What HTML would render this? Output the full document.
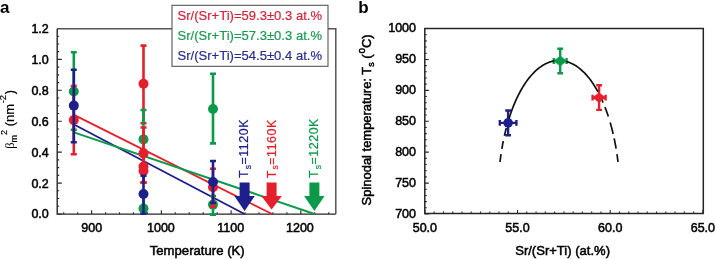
<!DOCTYPE html><html><head><meta charset="utf-8"><style>html,body{margin:0;padding:0;background:#fff;width:716px;height:259px;overflow:hidden}svg{display:block;will-change:transform}text{font-family:'Liberation Sans', sans-serif}</style></head><body>
<svg width="716" height="259" viewBox="0 0 716 259">
<rect width="716" height="259" fill="#fff"/>
<text x="0" y="12.9" font-size="17" font-weight="bold" fill="#000" stroke-width="0" stroke="#000" stroke-width="0.5">a</text>
<text x="358.2" y="12.8" font-size="17" font-weight="bold" fill="#000" stroke-width="0" stroke="#000" stroke-width="0.5">b</text>
<path d="M57.2 214.00h4.6M57.2 206.27h2.0M57.2 198.54h2.0M57.2 190.81h2.0M57.2 183.08h4.6M57.2 175.35h2.0M57.2 167.62h2.0M57.2 159.89h2.0M57.2 152.16h4.6M57.2 144.43h2.0M57.2 136.70h2.0M57.2 128.97h2.0M57.2 121.24h4.6M57.2 113.51h2.0M57.2 105.78h2.0M57.2 98.05h2.0M57.2 90.32h4.6M57.2 82.59h2.0M57.2 74.86h2.0M57.2 67.13h2.0M57.2 59.40h4.6M57.2 51.67h2.0M57.2 43.94h2.0M57.2 36.21h2.0M57.2 28.48h4.6M63.70 214.1v-1.8M77.65 214.1v-1.8M91.60 214.1v-3.8M105.55 214.1v-1.8M119.50 214.1v-1.8M133.45 214.1v-1.8M147.40 214.1v-1.8M161.35 214.1v-3.8M175.30 214.1v-1.8M189.25 214.1v-1.8M203.20 214.1v-1.8M217.15 214.1v-1.8M231.10 214.1v-3.8M245.05 214.1v-1.8M259.00 214.1v-1.8M272.95 214.1v-1.8M286.90 214.1v-1.8M300.85 214.1v-3.8M314.80 214.1v-1.8M328.75 214.1v-1.8" stroke="#262626" stroke-width="1.1" fill="none"/>
<path d="M57.2 28.7H335.8V214.1" stroke="#555" stroke-width="1.5" fill="none"/>
<path d="M57.2 28.7V214.1H335.8" stroke="#262626" stroke-width="1.4" fill="none"/>
<text x="48.8" y="218.4" font-size="12.5" text-anchor="end" fill="#000" stroke="#000" stroke-width="0.5">0.0</text>
<text x="48.8" y="187.5" font-size="12.5" text-anchor="end" fill="#000" stroke="#000" stroke-width="0.5">0.2</text>
<text x="48.8" y="156.6" font-size="12.5" text-anchor="end" fill="#000" stroke="#000" stroke-width="0.5">0.4</text>
<text x="48.8" y="125.6" font-size="12.5" text-anchor="end" fill="#000" stroke="#000" stroke-width="0.5">0.6</text>
<text x="48.8" y="94.7" font-size="12.5" text-anchor="end" fill="#000" stroke="#000" stroke-width="0.5">0.8</text>
<text x="48.8" y="63.8" font-size="12.5" text-anchor="end" fill="#000" stroke="#000" stroke-width="0.5">1.0</text>
<text x="48.8" y="32.9" font-size="12.5" text-anchor="end" fill="#000" stroke="#000" stroke-width="0.5">1.2</text>
<text x="91.8" y="232.4" font-size="12.5" text-anchor="middle" fill="#000" stroke="#000" stroke-width="0.5">900</text>
<text x="160.9" y="232.4" font-size="12.5" text-anchor="middle" fill="#000" stroke="#000" stroke-width="0.5">1000</text>
<text x="230.7" y="232.4" font-size="12.5" text-anchor="middle" fill="#000" stroke="#000" stroke-width="0.5">1100</text>
<text x="299.9" y="232.4" font-size="12.5" text-anchor="middle" fill="#000" stroke="#000" stroke-width="0.5">1200</text>
<text x="197.2" y="255" font-size="13" text-anchor="middle" fill="#000" textLength="95" lengthAdjust="spacingAndGlyphs" stroke="#000" stroke-width="0.5">Temperature (K)</text>
<text transform="translate(14.2,148.8) rotate(-90)" font-size="13" fill="#000" stroke-width="0.2" stroke="#000" stroke-width="0.5"><tspan font-family="Liberation Serif" font-size="12.5" stroke-width="0">β</tspan><tspan font-size="9" dy="2.4">m</tspan><tspan font-size="9" dy="-9.6">2</tspan><tspan dy="7.2"> (nm</tspan><tspan font-size="9.5" dx="0.6" dy="-8">-2</tspan><tspan dx="0.6" dy="8">)</tspan></text>
<line x1="74.0" y1="114.8" x2="272.0" y2="214.0" stroke="#e3202b" stroke-width="1.9"/>
<line x1="74.0" y1="124.5" x2="244.5" y2="214.0" stroke="#1f1f8c" stroke-width="1.9"/>
<line x1="74.0" y1="132.3" x2="314.5" y2="214.0" stroke="#0c9a4a" stroke-width="1.9"/>
<path d="M73.8 52.3V129.8M70.8 52.3h6.0M70.8 129.8h6.0" stroke="#0c9a4a" stroke-width="2.6" fill="none"/>
<circle cx="73.8" cy="91.5" r="5.0" fill="#0c9a4a"/>
<path d="M73.8 86.0V154.2M70.8 86.0h6.0M70.8 154.2h6.0" stroke="#e3202b" stroke-width="2.6" fill="none"/>
<path d="M143.5 45.6V123.3M140.5 45.6h6.0M140.5 123.3h6.0" stroke="#e3202b" stroke-width="2.6" fill="none"/>
<circle cx="73.8" cy="120.1" r="5.0" fill="#e3202b"/>
<circle cx="143.5" cy="83.8" r="5.0" fill="#e3202b"/>
<path d="M143.5 110.0V168.8M140.5 110.0h6.0M140.5 168.8h6.0" stroke="#0c9a4a" stroke-width="2.6" fill="none"/>
<path d="M143.5 196.0V213.0M140.5 196.0h6.0M140.5 213.0h6.0" stroke="#0c9a4a" stroke-width="2.6" fill="none"/>
<circle cx="143.5" cy="139.4" r="5.0" fill="#0c9a4a"/>
<circle cx="143.5" cy="208.6" r="5.0" fill="#0c9a4a"/>
<path d="M143.5 127.5V182.5M140.5 127.5h6.0M140.5 182.5h6.0" stroke="#e3202b" stroke-width="2.6" fill="none"/>
<path d="M143.5 150.0V182.5M140.5 150.0h6.0M140.5 182.5h6.0" stroke="#e3202b" stroke-width="2.6" fill="none"/>
<path d="M143.5 150.0V182.5M140.5 150.0h6.0M140.5 182.5h6.0" stroke="#e3202b" stroke-width="2.6" fill="none"/>
<circle cx="143.5" cy="153.4" r="5.0" fill="#e3202b"/>
<circle cx="143.5" cy="166.5" r="5.0" fill="#e3202b"/>
<circle cx="143.5" cy="171.0" r="5.0" fill="#e3202b"/>
<path d="M213.0 73.8V143.4M210.0 73.8h6.0M210.0 143.4h6.0" stroke="#0c9a4a" stroke-width="2.6" fill="none"/>
<path d="M213.0 196.0V214.6M210.0 196.0h6.0M210.0 214.6h6.0" stroke="#0c9a4a" stroke-width="2.6" fill="none"/>
<circle cx="213.0" cy="109.0" r="5.0" fill="#0c9a4a"/>
<circle cx="213.0" cy="204.6" r="5.0" fill="#0c9a4a"/>
<path d="M213.0 168.8V206.6M210.0 168.8h6.0M210.0 206.6h6.0" stroke="#e3202b" stroke-width="2.6" fill="none"/>
<circle cx="213.0" cy="187.2" r="5.0" fill="#e3202b"/>
<path d="M73.8 69.8V142.2M70.8 69.8h6.0M70.8 142.2h6.0" stroke="#1f1f8c" stroke-width="2.6" fill="none"/>
<path d="M143.5 175.8V213.8M140.5 175.8h6.0M140.5 213.8h6.0" stroke="#1f1f8c" stroke-width="2.6" fill="none"/>
<path d="M213.0 161.0V203.0M210.0 161.0h6.0M210.0 203.0h6.0" stroke="#1f1f8c" stroke-width="2.6" fill="none"/>
<circle cx="73.8" cy="105.6" r="5.0" fill="#1f1f8c"/>
<circle cx="143.5" cy="194.0" r="5.0" fill="#1f1f8c"/>
<circle cx="213.0" cy="182.0" r="5.0" fill="#1f1f8c"/>
<path d="M239.6 182.5H249.6V196.0H254.8L244.6 211.0L234.3 196.0H239.6Z" fill="#1f1f8c"/>
<path d="M266.6 182.5H276.6V196.0H281.9L271.6 209.5L261.4 196.0H266.6Z" fill="#e3202b"/>
<path d="M309.4 182.5H319.4V196.0H324.6L314.4 211.0L304.1 196.0H309.4Z" fill="#0c9a4a"/>
<text transform="translate(248.4,178.0) rotate(-90)" font-size="12.4" fill="#1f1f8c" stroke-width="0.22" letter-spacing="0.55" stroke="#1f1f8c" stroke-width="0.5">T<tspan font-size="8.5" dx="0.6" dy="2.8">s</tspan><tspan dy="-2.8">=1120K</tspan></text>
<text transform="translate(275.6,178.2) rotate(-90)" font-size="12.4" fill="#e3202b" stroke-width="0.22" letter-spacing="0.55" stroke="#e3202b" stroke-width="0.5">T<tspan font-size="8.5" dx="0.6" dy="2.8">s</tspan><tspan dy="-2.8">=1160K</tspan></text>
<text transform="translate(318.0,178.0) rotate(-90)" font-size="12.4" fill="#0c9a4a" stroke-width="0.22" letter-spacing="0.55" stroke="#0c9a4a" stroke-width="0.5">T<tspan font-size="8.5" dx="0.6" dy="2.8">s</tspan><tspan dy="-2.8">=1220K</tspan></text>
<rect x="172" y="5.3" width="156" height="61" fill="#fff" stroke="#555" stroke-width="1.1"/>
<text x="177.5" y="20.3" font-size="13" fill="#d6223a" stroke-width="0.2" textLength="144.5" lengthAdjust="spacingAndGlyphs" stroke="#d6223a" stroke-width="0.5">Sr/(Sr+Ti)=59.3±0.3 at.%</text>
<text x="177.5" y="40.1" font-size="13" fill="#1a9a50" stroke-width="0.2" textLength="144.5" lengthAdjust="spacingAndGlyphs" stroke="#1a9a50" stroke-width="0.5">Sr/(Sr+Ti)=57.3±0.3 at.%</text>
<text x="177.5" y="59.5" font-size="13" fill="#2a2c8c" stroke-width="0.2" textLength="144.5" lengthAdjust="spacingAndGlyphs" stroke="#2a2c8c" stroke-width="0.5">Sr/(Sr+Ti)=54.5±0.4 at.%</text>
<path d="M424.8 214.00h4.0M424.8 207.82h2.0M424.8 201.63h2.0M424.8 195.45h2.0M424.8 189.27h2.0M424.8 183.09h4.0M424.8 176.90h2.0M424.8 170.72h2.0M424.8 164.54h2.0M424.8 158.35h2.0M424.8 152.17h4.0M424.8 145.99h2.0M424.8 139.80h2.0M424.8 133.62h2.0M424.8 127.44h2.0M424.8 121.26h4.0M424.8 115.07h2.0M424.8 108.89h2.0M424.8 102.71h2.0M424.8 96.52h2.0M424.8 90.34h4.0M424.8 84.16h2.0M424.8 77.97h2.0M424.8 71.79h2.0M424.8 65.61h2.0M424.8 59.43h4.0M424.8 53.24h2.0M424.8 47.06h2.0M424.8 40.88h2.0M424.8 34.69h2.0M424.8 28.51h4.0" stroke="#262626" stroke-width="1.1" fill="none"/>
<path d="M424.90 213.6v-3.5M434.16 213.6v-2.0M443.43 213.6v-2.0M452.69 213.6v-2.0M461.96 213.6v-2.0M471.22 213.6v-2.0M480.49 213.6v-2.0M489.75 213.6v-2.0M499.02 213.6v-2.0M508.28 213.6v-2.0M517.55 213.6v-3.5M526.81 213.6v-2.0M536.08 213.6v-2.0M545.35 213.6v-2.0M554.61 213.6v-2.0M563.88 213.6v-2.0M573.14 213.6v-2.0M582.40 213.6v-2.0M591.67 213.6v-2.0M600.93 213.6v-2.0M610.20 213.6v-3.5M619.46 213.6v-2.0M628.73 213.6v-2.0M638.00 213.6v-2.0M647.26 213.6v-2.0M656.52 213.6v-2.0M665.79 213.6v-2.0M675.06 213.6v-2.0M684.32 213.6v-2.0M693.59 213.6v-2.0M702.85 213.6v-3.5" stroke="#22226a" stroke-width="1.1" fill="none"/>
<path d="M424.8 28.6V213.6H703.3V28.6Z" stroke="#262626" stroke-width="1.5" fill="none"/>
<text x="416" y="217.8" font-size="12.5" text-anchor="end" fill="#000" stroke="#000" stroke-width="0.5">700</text>
<text x="416" y="186.9" font-size="12.5" text-anchor="end" fill="#000" stroke="#000" stroke-width="0.5">750</text>
<text x="416" y="156.0" font-size="12.5" text-anchor="end" fill="#000" stroke="#000" stroke-width="0.5">800</text>
<text x="416" y="125.1" font-size="12.5" text-anchor="end" fill="#000" stroke="#000" stroke-width="0.5">850</text>
<text x="416" y="94.1" font-size="12.5" text-anchor="end" fill="#000" stroke="#000" stroke-width="0.5">900</text>
<text x="416" y="63.2" font-size="12.5" text-anchor="end" fill="#000" stroke="#000" stroke-width="0.5">950</text>
<text x="416" y="32.3" font-size="12.5" text-anchor="end" fill="#000" stroke="#000" stroke-width="0.5">1000</text>
<text x="424.9" y="232.4" font-size="12.5" text-anchor="middle" fill="#000" stroke="#000" stroke-width="0.5">50.0</text>
<text x="517.5" y="232.4" font-size="12.5" text-anchor="middle" fill="#000" stroke="#000" stroke-width="0.5">55.0</text>
<text x="610.2" y="232.4" font-size="12.5" text-anchor="middle" fill="#000" stroke="#000" stroke-width="0.5">60.0</text>
<text x="702.9" y="232.4" font-size="12.5" text-anchor="middle" fill="#000" stroke="#000" stroke-width="0.5">65.0</text>
<text x="562.6" y="255" font-size="13" text-anchor="middle" fill="#000" textLength="94.8" lengthAdjust="spacingAndGlyphs" stroke="#000" stroke-width="0.5">Sr/(Sr+Ti) (at.%)</text>
<text transform="translate(371,119.9) rotate(-90)" font-size="13" text-anchor="middle" fill="#000" textLength="171" lengthAdjust="spacingAndGlyphs" stroke="#000" stroke-width="0.5">Spinodal temperature: T<tspan font-size="9" dy="2.5">s</tspan><tspan dy="-2.5"> (</tspan><tspan font-size="10" dx="0.8" dy="-6.5">o</tspan><tspan dy="6.5">C)</tspan></text>
<path d="M508.1 110.5V135.3M505.2 110.5h5.8M505.2 135.3h5.8M499.8 122.9H516.4M499.8 120.0v5.8M516.4 120.0v5.8" stroke="#1f1f8c" stroke-width="2.4" fill="none"/>
<path d="M560.2 48.7V73.3M557.3 48.7h5.8M557.3 73.3h5.8M553.8 61.0H566.6M553.8 58.1v5.8M566.6 58.1v5.8" stroke="#0c9a4a" stroke-width="2.4" fill="none"/>
<path d="M599.1 85.3V109.9M596.2 85.3h5.8M596.2 109.9h5.8M592.6 97.6H605.6M592.6 94.7v5.8M605.6 94.7v5.8" stroke="#e3202b" stroke-width="2.4" fill="none"/>
<polyline points="508.00,121.89 509.12,118.20 510.25,114.75 511.38,111.52 512.50,108.48 513.62,105.61 514.75,102.89 515.88,100.31 517.00,97.87 518.12,95.55 519.25,93.34 520.38,91.24 521.50,89.23 522.62,87.33 523.75,85.51 524.88,83.77 526.00,82.12 527.12,80.54 528.25,79.04 529.38,77.62 530.50,76.26 531.62,74.96 532.75,73.74 533.88,72.57 535.00,71.47 536.12,70.42 537.25,69.44 538.38,68.51 539.50,67.64 540.62,66.82 541.75,66.05 542.88,65.34 544.00,64.68 545.12,64.06 546.25,63.50 547.38,62.99 548.50,62.53 549.62,62.12 550.75,61.75 551.88,61.43 553.00,61.16 554.12,60.94 555.25,60.76 556.38,60.63 557.50,60.54 558.62,60.50 559.75,60.51 560.88,60.56 562.00,60.66 563.12,60.81 564.25,61.00 565.38,61.24 566.50,61.53 567.62,61.87 568.75,62.25 569.88,62.68 571.00,63.16 572.12,63.69 573.25,64.26 574.38,64.89 575.50,65.57 576.62,66.30 577.75,67.08 578.88,67.92 580.00,68.81 581.12,69.76 582.25,70.77 583.38,71.83 584.50,72.95 585.62,74.14 586.75,75.39 587.88,76.70 589.00,78.08 590.12,79.54 591.25,81.06 592.38,82.66 593.50,84.34 594.62,86.10 595.75,87.95 596.88,89.89 598.00,91.93" fill="none" stroke="#111" stroke-width="1.7"/>
<polyline points="500.00,162.00 500.13,160.89 500.26,159.81 500.40,158.76 500.53,157.75 500.66,156.76 500.80,155.80 500.93,154.86 501.06,153.95 501.20,153.06 501.33,152.18 501.46,151.33 501.60,150.49 501.73,149.67 501.86,148.87 502.00,148.08 502.13,147.31 502.26,146.55 502.40,145.80 502.53,145.07 502.66,144.35 502.80,143.64 502.93,142.94 503.06,142.25 503.20,141.57 503.33,140.90 503.46,140.24 503.60,139.59 503.73,138.95 503.86,138.32 504.00,137.69 504.13,137.08 504.26,136.47 504.40,135.87 504.53,135.27 504.66,134.69 504.80,134.11 504.93,133.53 505.06,132.97 505.20,132.41 505.33,131.85 505.47,131.31 505.60,130.77 505.73,130.23 505.87,129.70 506.00,129.17 506.13,128.66 506.27,128.14 506.40,127.63 506.53,127.13 506.67,126.63 506.80,126.13 506.93,125.65 507.07,125.16 507.20,124.68 507.33,124.20 507.47,123.73 507.60,123.26 507.73,122.80 507.87,122.34 508.00,121.89" fill="none" stroke="#111" stroke-width="1.7" stroke-dasharray="8 5.3"/>
<polyline points="618.00,162.00 617.67,159.28 617.34,156.76 617.00,154.40 616.67,152.19 616.34,150.09 616.00,148.09 615.67,146.18 615.34,144.35 615.00,142.60 614.67,140.91 614.34,139.27 614.00,137.70 613.67,136.17 613.34,134.69 613.00,133.26 612.67,131.86 612.34,130.51 612.00,129.18 611.67,127.89 611.34,126.64 611.00,125.41 610.67,124.21 610.34,123.04 610.00,121.90 609.67,120.77 609.34,119.68 609.00,118.60 608.67,117.55 608.34,116.52 608.00,115.50 607.67,114.51 607.34,113.54 607.00,112.58 606.67,111.64 606.34,110.72 606.00,109.81 605.67,108.92 605.34,108.05 605.00,107.18 604.67,106.34 604.33,105.51 604.00,104.69 603.67,103.88 603.33,103.09 603.00,102.31 602.67,101.54 602.33,100.78 602.00,100.04 601.67,99.31 601.33,98.58 601.00,97.87 600.67,97.17 600.33,96.48 600.00,95.80 599.67,95.13 599.33,94.47 599.00,93.82 598.67,93.18 598.33,92.55 598.00,91.93" fill="none" stroke="#111" stroke-width="1.7" stroke-dasharray="8 5.5 10.4 4.6 11.9 6.1 10 5" />
<circle cx="508.1" cy="122.9" r="4.8" fill="#1f1f8c"/>
<path d="M560.2 56.0L566.4 61.0L560.2 66.0L554.0 61.0Z" fill="#0c9a4a" stroke="#0c9a4a" stroke-width="0.8" stroke-linejoin="round"/>
<path d="M599.1 92.9L605.4 97.6L599.1 102.3L592.8 97.6Z" fill="#e3202b" stroke="#e3202b" stroke-width="0.8" stroke-linejoin="round"/>
</svg></body></html>
